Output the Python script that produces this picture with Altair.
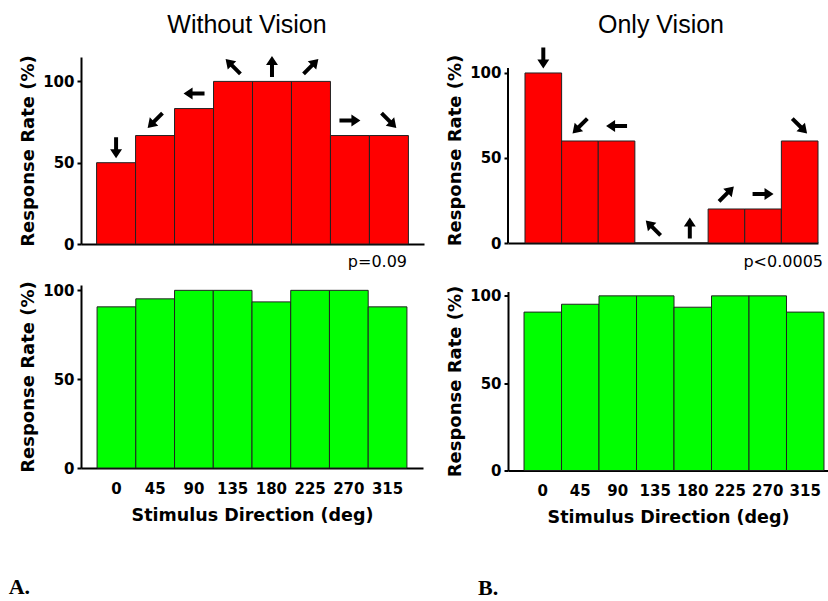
import math

import altair as alt
import pandas as pd

# Stimulus directions (deg) and response rates (%) per panel
directions = [0, 45, 90, 135, 180, 225, 270, 315]
without_vision_rate = [50, 66.7, 83.3, 100, 100, 100, 66.7, 66.7]
only_vision_rate = [100, 60, 60, 0, 0, 20, 20, 60]
lower_left_rate = [90.7, 95.2, 100, 100, 93.5, 100, 100, 90.7]
lower_right_rate = [90.7, 95.2, 100, 100, 93.5, 100, 100, 90.7]
panel_titles = ["Without Vision", "Only Vision"]
p_labels = ["p=0.09", "p<0.0005"]
figure_letters = ["A.", "B."]
y_ticks = [0, 50, 100]

RED = "#ff0000"
GREEN = "#00ff00"
SANS = "DejaVu Sans"

dir_labels = [str(d) for d in directions]

# right-pointing arrow outline in the [-1, 1] symbol box
ARROW_PTS = [(-1, -0.19), (0.14, -0.19), (0.14, -0.57), (1, 0),
             (0.14, 0.57), (0.14, 0.19), (-1, 0.19)]


def arrow_path(deg):
    """Arrow outline turned clockwise on screen by deg."""
    t = math.radians(deg)
    c, s = math.cos(t), math.sin(t)
    pts = [(x * c - y * s, x * s + y * c) for x, y in ARROW_PTS]
    return "M" + "L".join(f"{px:.3f},{py:.3f}" for px, py in pts) + "Z"


# 0 deg points downward, directions advance clockwise on screen
arrow_shapes = [arrow_path(d + 90) for d in directions]


def frame(rates):
    return pd.DataFrame({"direction": dir_labels, "rate": rates})


def text_layer(label, x, y, align, baseline, font, size, weight="normal"):
    return alt.Chart(pd.DataFrame({"t": [label]})).mark_text(
        align=align, baseline=baseline, font=font, fontSize=size,
        fontWeight=weight, color="black",
    ).encode(x=alt.value(x), y=alt.value(y), text="t:N")


def panel(rates, color, width, height, ymax, pad, band_align, bottom,
          extras=(), axis_top=None):
    df = frame(rates)
    if bottom:
        x_axis = alt.Axis(labelAngle=0, ticks=False, labelPadding=13,
                          title="Stimulus Direction (deg)")
    else:
        x_axis = alt.Axis(labels=False, ticks=False, title=None)
    x = alt.X("direction:N", sort=dir_labels, axis=x_axis,
              scale=alt.Scale(paddingInner=0, paddingOuter=pad, align=band_align))
    y = alt.Y("rate:Q", scale=alt.Scale(domain=[0, ymax], nice=False, zero=True),
              axis=alt.Axis(values=y_ticks, title="Response Rate (%)",
                            domain=axis_top is None))

    layers = [
        alt.Chart(df).mark_bar(color=color, stroke="#222222", strokeWidth=1)
        .encode(x=x, y=y)
    ]
    if axis_top is not None:
        # y axis line drawn only up to axis_top
        layers.append(
            alt.Chart(pd.DataFrame({"lo": [0], "hi": [axis_top]}))
            .mark_rule(color="black", strokeWidth=2)
            .encode(x=alt.value(0), y=alt.Y("lo:Q"), y2="hi:Q")
        )
    if not bottom:
        layers.append(
            alt.Chart(df).mark_point(
                filled=True, color="black", size=440,
                opacity=1, strokeWidth=0, yOffset=-15,
            ).encode(
                x=x, y=y,
                shape=alt.Shape("direction:N", legend=None,
                                scale=alt.Scale(domain=dir_labels,
                                                range=arrow_shapes)),
            )
        )
    layers.extend(extras)
    return alt.layer(*layers).properties(width=width, height=height)


def heading(label, x, y):
    return text_layer(label, x, y, "center", "alphabetic",
                      "Liberation Sans", 25)


def p_note(label, x, y):
    return text_layer(label, x, y, "right", "alphabetic", SANS, 16)


def letter(label, x, y):
    return text_layer(label, x, y, "left", "bottom",
                      "Liberation Serif", 22, "bold")


top_left = panel(without_vision_rate, RED, 343, 187, 115, 0.4, 0.5, False,
                 extras=[heading(panel_titles[0], 166, -24),
                         p_note(p_labels[0], 326, 210)])
top_right = panel(only_vision_rate, RED, 310, 186, 109.4, 0.232, 1.0, False,
                  axis_top=103,
                  extras=[heading(panel_titles[1], 153, -24),
                          p_note(p_labels[1], 315, 210)])
bottom_left = panel(lower_left_rate, GREEN, 342, 183, 103, 0.415, 0.5, True)
bottom_right = panel(lower_right_rate, GREEN, 320, 179, 102.5, 0.267, 0.8,
                     True, extras=[letter(figure_letters[1], -30, 308)])

left_col = alt.vconcat(top_left, bottom_left, spacing=10)
right_col = alt.vconcat(top_right, bottom_right, spacing=14.5)

chart = alt.concat(left_col, right_col, columns=2, spacing=22,
                   align="none").properties(
    title=alt.TitleParams(
        text=figure_letters[0], orient="bottom", anchor="start",
        frame="bounds", font="Liberation Serif", fontSize=22,
        fontWeight="bold", color="black", dx=-11, offset=0, baseline="bottom",
    ),
    padding={"left": 8, "top": 13, "right": 0, "bottom": 0},
    background="white",
).configure_view(
    stroke=None
).configure_axis(
    domainColor="black", domainWidth=2, tickColor="black", tickWidth=2,
    tickSize=4, labelFont=SANS, labelFontSize=15, labelFontWeight="bold",
    labelColor="black", titleFont=SANS, titleFontWeight="bold",
    titleColor="black", grid=False, zindex=1,
).configure_axisY(
    titleFontSize=18, titlePadding=5, labelPadding=3,
).configure_axisX(
    titleFontSize=17.5, titlePadding=10,
)

chart.save("out.html", embed_options={"renderer": "svg", "actions": False})
